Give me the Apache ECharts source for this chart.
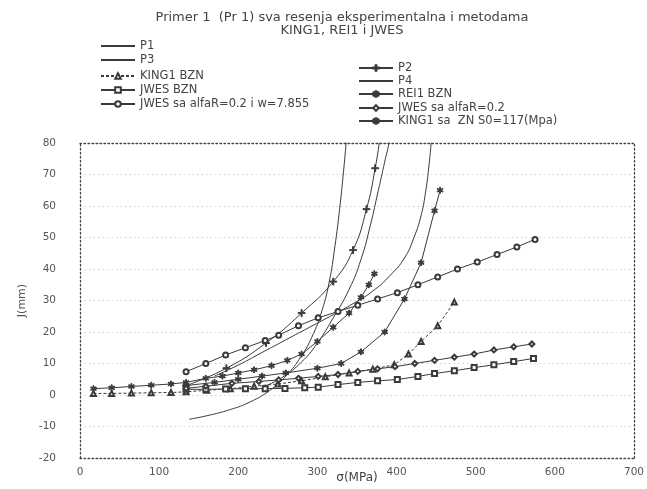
<!DOCTYPE html>
<html>
<head>
<meta charset="utf-8">
<script src="https://cdn.jsdelivr.net/npm/echarts@6/dist/echarts.min.js"></script>
<style>html,body{margin:0;padding:0;background:#fff}#c{width:647px;height:489px}</style>
</head>
<body>
<div id="c"></div>
<script>
const titleText = 'Primer 1  (Pr 1) sva resenja eksperimentalna i metodama\nKING1, REI1 i JWES';
const xTicks = [0, 100, 200, 300, 400, 500, 600, 700];
const yTicks = [-20, -10, 0, 10, 20, 30, 40, 50, 60, 70, 80];

const p1 = [[138,-7.7],[160,-6.6],[190,-4.6],[215,-2.2],[240,1.5],[260,6],[280,12.5],[295,19.5],[306,27],[315,36],[322,47],[328,59],[333,71],[337,82],[340,90]];
const p2 = [[134,3],[185,8.5],[235,16.5],[280,26],[320,36],[345,46],[362,59],[373,72],[380,84],[383,92]];
const p3 = [[230,2.5],[255,5.5],[280,10.5],[300,16.5],[320,24.5],[340,33.5],[355,43],[367,54],[377,65],[385,74],[391,81],[394,88]];
const p4 = [[170,6],[200,9.5],[230,13.5],[260,17.5],[290,21.5],[320,25.5],[345,29],[370,33],[392,38],[410,43.5],[422,50],[431,57],[437,65],[441,73],[444,81],[446,88]];
const king1Bzn = [[17,0.5],[40,0.5],[65,0.6],[90,0.7],[115,0.8],[134,1],[160,1.5],[190,2],[220,2.8],[250,3.5],[280,4.5],[310,5.8],[340,7],[370,8.2],[397,9.6],[415,13],[431,17],[452,22],[473,29.5]];
const rei1Bzn = [[134,3],[170,4],[200,5],[230,6],[260,7],[300,8.5],[330,10],[355,13.7],[385,20],[410,30.5],[431,42],[448,58.5],[455,65]];
const jwesBzn = [[134,1.8],[159,1.8],[184,1.9],[209,2],[234,2],[259,2.1],[284,2.3],[301,2.5],[326,3.3],[351,4],[376,4.5],[401,4.9],[427,5.9],[448,6.8],[473,7.7],[498,8.7],[523,9.6],[548,10.6],[573,11.6]];
const jwesAlfa = [[134,2.1],[159,2.8],[192,3.7],[226,4.3],[251,4.8],[276,5.3],[301,5.9],[326,6.5],[351,7.5],[376,8.3],[398,9],[423,10],[448,11],[473,12],[498,13],[523,14.3],[548,15.3],[571,16.2]];
const jwesAlfaW = [[134,7.4],[159,10],[184,12.7],[209,15],[234,17.3],[251,19],[276,22],[301,24.5],[326,26.5],[351,28.5],[376,30.5],[401,32.5],[427,35],[452,37.5],[477,40],[502,42.2],[527,44.6],[552,47],[575,49.4]];
const king1Zn = [[17,2],[40,2.3],[65,2.7],[90,3.1],[115,3.5],[134,4],[159,5.3],[180,6],[200,7],[220,8],[242,9.3],[262,11],[280,13],[300,17],[320,21.5],[340,26],[355,31],[365,35],[372,38.5]];

const names = ['P1','P3','KING1 BZN','JWES BZN','JWES sa alfaR=0.2 i w=7.855','P2','P4','REI1 BZN','JWES sa alfaR=0.2','KING1 sa  ZN S0=117(Mpa)'];

const C = '#3a3a3a';
const plus = 'path://M4.3,0H5.7V4.3H10V5.7H5.7V10H4.3V5.7H0V4.3H4.3Z';
const star = 'path://M4.3,0H5.7V3.6L8.8,1.8L9.5,3L6.4,4.8L9.5,6.6L8.8,7.8L5.7,6V9.6H4.3V6L1.2,7.8L0.5,6.6L3.6,4.8L0.5,3L1.2,1.8L4.3,3.6Z';

function mk(name, data, opt) {
  return Object.assign({
    name: name, type: 'line', data: data, clip: true,
    symbol: 'none', symbolSize: 5,
    lineStyle: { color: C, width: 1 },
    itemStyle: { color: C, borderColor: C, borderWidth: 1 },
    emphasis: { disabled: true }, animation: false,
    xAxisIndex: 0, yAxisIndex: 0
  }, opt || {});
}

const series = [
  mk('P1', p1, { smooth: true }),
  mk('P2', p2, { smooth: true, symbol: plus, symbolSize: 7 }),
  mk('P3', p3, { smooth: true }),
  mk('P4', p4, { smooth: true }),
  mk('KING1 BZN', king1Bzn, { symbol: 'emptyTriangle', symbolSize: 5, lineStyle: { color: C, width: 1, type: [3, 2] } }),
  mk('REI1 BZN', rei1Bzn, { symbol: star, symbolSize: 6 }),
  mk('JWES BZN', jwesBzn, { symbol: 'emptyRect', symbolSize: 5 }),
  mk('JWES sa alfaR=0.2', jwesAlfa, { symbol: 'emptyDiamond', symbolSize: 5 }),
  mk('JWES sa alfaR=0.2 i w=7.855', jwesAlfaW, { symbol: 'emptyCircle', symbolSize: 5 }),
  mk('KING1 sa  ZN S0=117(Mpa)', king1Zn, { symbol: star, symbolSize: 6 })
];

const plain = { 'P1': 1, 'P3': 1, 'P4': 1 };
const legPos = [
  [100, 40], [100, 54], [100, 70], [100, 84], [100, 98],
  [358, 62], [358, 75], [358, 88], [358, 102], [358, 115]
];
const legends = names.map((n, i) => ({
  data: [plain[n] ? { name: n, itemStyle: { opacity: 0 } } : { name: n }],
  left: legPos[i][0], top: legPos[i][1], orient: 'horizontal',
  itemWidth: 34, itemHeight: 7, itemGap: 5, padding: 0,
  textStyle: { fontFamily: 'DejaVu Sans', fontSize: 11.5, color: '#444' },
  selectedMode: false
}));

const dotted = { show: true, lineStyle: { color: '#444', type: [1.5, 2.5], width: 1.3 } };
const lbl = { fontFamily: 'DejaVu Sans', fontSize: 10.5, color: '#555' };

const option = {
  backgroundColor: '#fff',
  animation: false,
  title: {
    text: titleText, left: 337, top: 6, textAlign: 'center',
    textStyle: { fontFamily: 'DejaVu Sans', fontSize: 13, fontWeight: 'normal', color: '#444', lineHeight: 13 }
  },
  legend: legends,
  grid: { left: 80, right: 9, top: 143, bottom: 31, containLabel: false },
  xAxis: [
    { type: 'value', min: 0, max: 700, interval: 100,
      axisLine: { show: true, onZero: true, lineStyle: { opacity: 0 } },
      axisTick: { show: false }, splitLine: { show: false },
      axisLabel: Object.assign({ margin: 9 }, lbl) },
    { type: 'value', min: 0, max: 700, interval: 100, position: 'top',
      axisLine: Object.assign({ onZero: false }, dotted), axisTick: { show: false }, axisLabel: { show: false }, splitLine: { show: false } },
    { type: 'value', min: 0, max: 700, interval: 100, position: 'bottom',
      axisLine: Object.assign({ onZero: false }, dotted), axisTick: { show: false }, axisLabel: { show: false }, splitLine: { show: false },
      name: 'σ(MPa)', nameLocation: 'middle', nameGap: 14,
      nameTextStyle: { fontFamily: 'DejaVu Sans', fontSize: 12, color: '#444' } }
  ],
  yAxis: [
    { type: 'value', min: -20, max: 80, interval: 10,
      axisLine: Object.assign({ onZero: false }, dotted), axisTick: { show: false },
      axisLabel: Object.assign({ margin: 24 }, lbl),
      splitLine: { show: true, lineStyle: { color: '#d2d2d2', type: [1.5, 3], width: 1 } },
      name: 'J(mm)', nameLocation: 'middle', nameGap: 42, nameRotate: 90,
      nameTextStyle: { fontFamily: 'DejaVu Sans', fontSize: 11, color: '#555' } },
    { type: 'value', min: -20, max: 80, interval: 10, position: 'right',
      axisLine: Object.assign({ onZero: false }, dotted), axisTick: { show: false }, axisLabel: { show: false }, splitLine: { show: false } }
  ],
  series: series
};

const chart = echarts.init(document.getElementById('c'), null, { renderer: 'canvas' });
chart.setOption(option);
</script>
</body>
</html>
